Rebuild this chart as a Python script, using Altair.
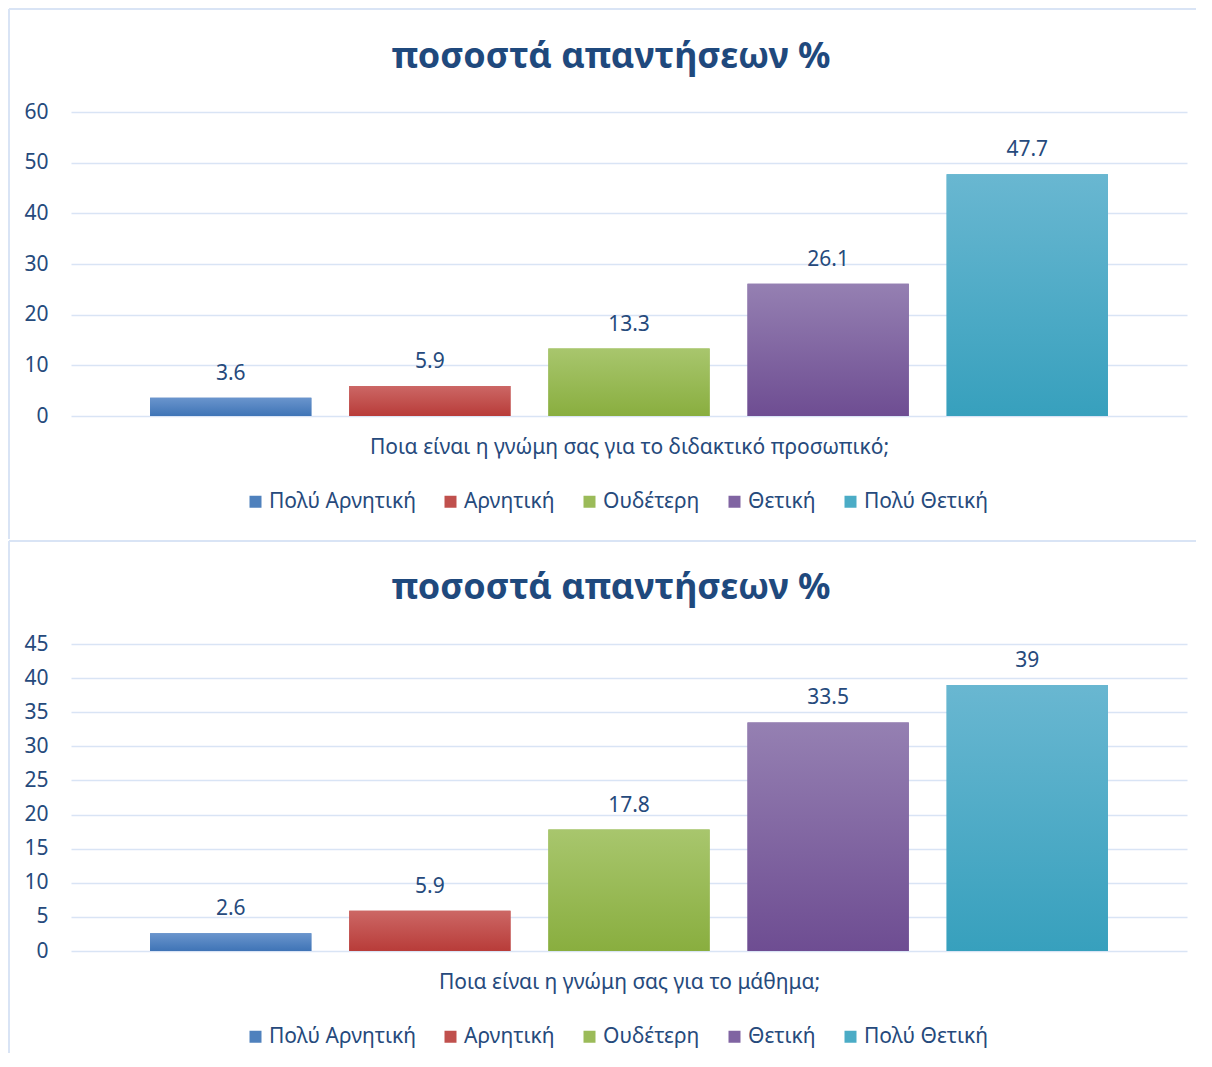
import altair as alt
import pandas as pd

categories = ["Πολύ Αρνητική", "Αρνητική", "Ουδέτερη", "Θετική", "Πολύ Θετική"]
staff_values = [3.6, 5.9, 13.3, 26.1, 47.7]
course_values = [2.6, 5.9, 17.8, 33.5, 39]
questions = [
    "Ποια είναι η γνώμη σας για το διδακτικό προσωπικό;",
    "Ποια είναι η γνώμη σας για το μάθημα;",
]
chart_title = "ποσοστά απαντήσεων %"

base_colors = ["#4F81BD", "#C0504D", "#9BBB59", "#8064A2", "#4BACC6"]
top_colors = ["#6a95cd", "#cc6765", "#a8c66d", "#9580b2", "#69b7d1"]
bottom_colors = ["#3f74b6", "#b83c39", "#89ae3f", "#6e4d92", "#37a0bd"]

FONT = "Noto Sans"
TEXT = "#264a7c"
TITLE_C = "#1f497d"
GRID = "#d9e4f5"
W = 1116


def panel(values, question, ymax, ystep, height, title_y, border_top, border_bottom, legend_y):
    df = pd.DataFrame({"cat": categories, "val": values})
    one = pd.DataFrame({"k": [0]})
    x = alt.X(
        "cat:N",
        sort=categories,
        scale=alt.Scale(domain=categories, paddingInner=0.19, paddingOuter=0.397),
        axis=alt.Axis(
            labels=False, ticks=False, domain=False, title=question,
            titleFont=FONT, titleFontSize=21, titleFontWeight="normal",
            titleColor=TEXT, titlePadding=20,
        ),
    )
    y = alt.Y(
        "val:Q",
        scale=alt.Scale(domain=[0, ymax], nice=False, zero=True),
        axis=alt.Axis(
            values=list(range(0, ymax + 1, ystep)), title=None,
            labelFont=FONT, labelFontSize=21, labelColor=TEXT, labelPadding=23,
            ticks=False, domain=False, gridColor=GRID, gridWidth=1.5,
        ),
    )
    base = alt.Chart(df)
    bars = base.mark_bar().encode(
        x=x, y=y,
        color=alt.Color(
            "cat:N", sort=categories,
            scale=alt.Scale(domain=categories, range=base_colors),
            legend=alt.Legend(
                title=None, orient="none", legendX=174, legendY=legend_y,
                direction="horizontal", symbolType="square", symbolSize=144,
                symbolStrokeWidth=0, symbolOpacity=1, labelFont=FONT, labelFontSize=21,
                labelColor=TEXT, labelOffset=3, columnPadding=24,
            ),
        ),
    )
    grads = []
    for c, t, b in zip(categories, top_colors, bottom_colors):
        grads.append(
            base.transform_filter(alt.datum.cat == c).mark_bar(
                color=alt.Gradient(
                    gradient="linear",
                    stops=[alt.GradientStop(color=t, offset=0), alt.GradientStop(color=b, offset=1)],
                    x1=0, x2=0, y1=0, y2=1,
                )
            ).encode(x=x, y=y)
        )
    labels = base.mark_text(
        dy=-18, baseline="alphabetic", font=FONT, fontSize=21, color=TEXT
    ).encode(x=x, y=y, text=alt.Text("val:Q"))
    top_rule = alt.Chart(one).mark_rule(color=GRID, strokeWidth=2).encode(
        x=alt.value(-62), x2=alt.value(1125), y=alt.value(border_top)
    )
    left_rule = alt.Chart(one).mark_rule(color=GRID, strokeWidth=2).encode(
        x=alt.value(-62), y=alt.value(border_top), y2=alt.value(border_bottom)
    )
    title = alt.Chart(one).mark_text(
        text=chart_title, font=FONT, fontSize=36, fontWeight="bold",
        color=TITLE_C, align="center", baseline="alphabetic",
    ).encode(x=alt.value(540), y=alt.value(title_y))
    return alt.layer(top_rule, left_rule, bars, *grads, labels, title).properties(
        width=W, height=height
    )


top = panel(staff_values, questions[0], 60, 10, 304, -44, -103, 427, 379)
bottom = panel(course_values, questions[1], 45, 5, 307, -45, -103, 409, 382)

chart = (
    alt.vconcat(top, bottom, spacing=0)
    .resolve_scale(color="independent")
    .resolve_legend(color="independent")
    .properties(padding=0, background="white")
    .configure_view(stroke=None)
)

chart.save("out.html", embed_options={"renderer": "svg", "actions": False})
